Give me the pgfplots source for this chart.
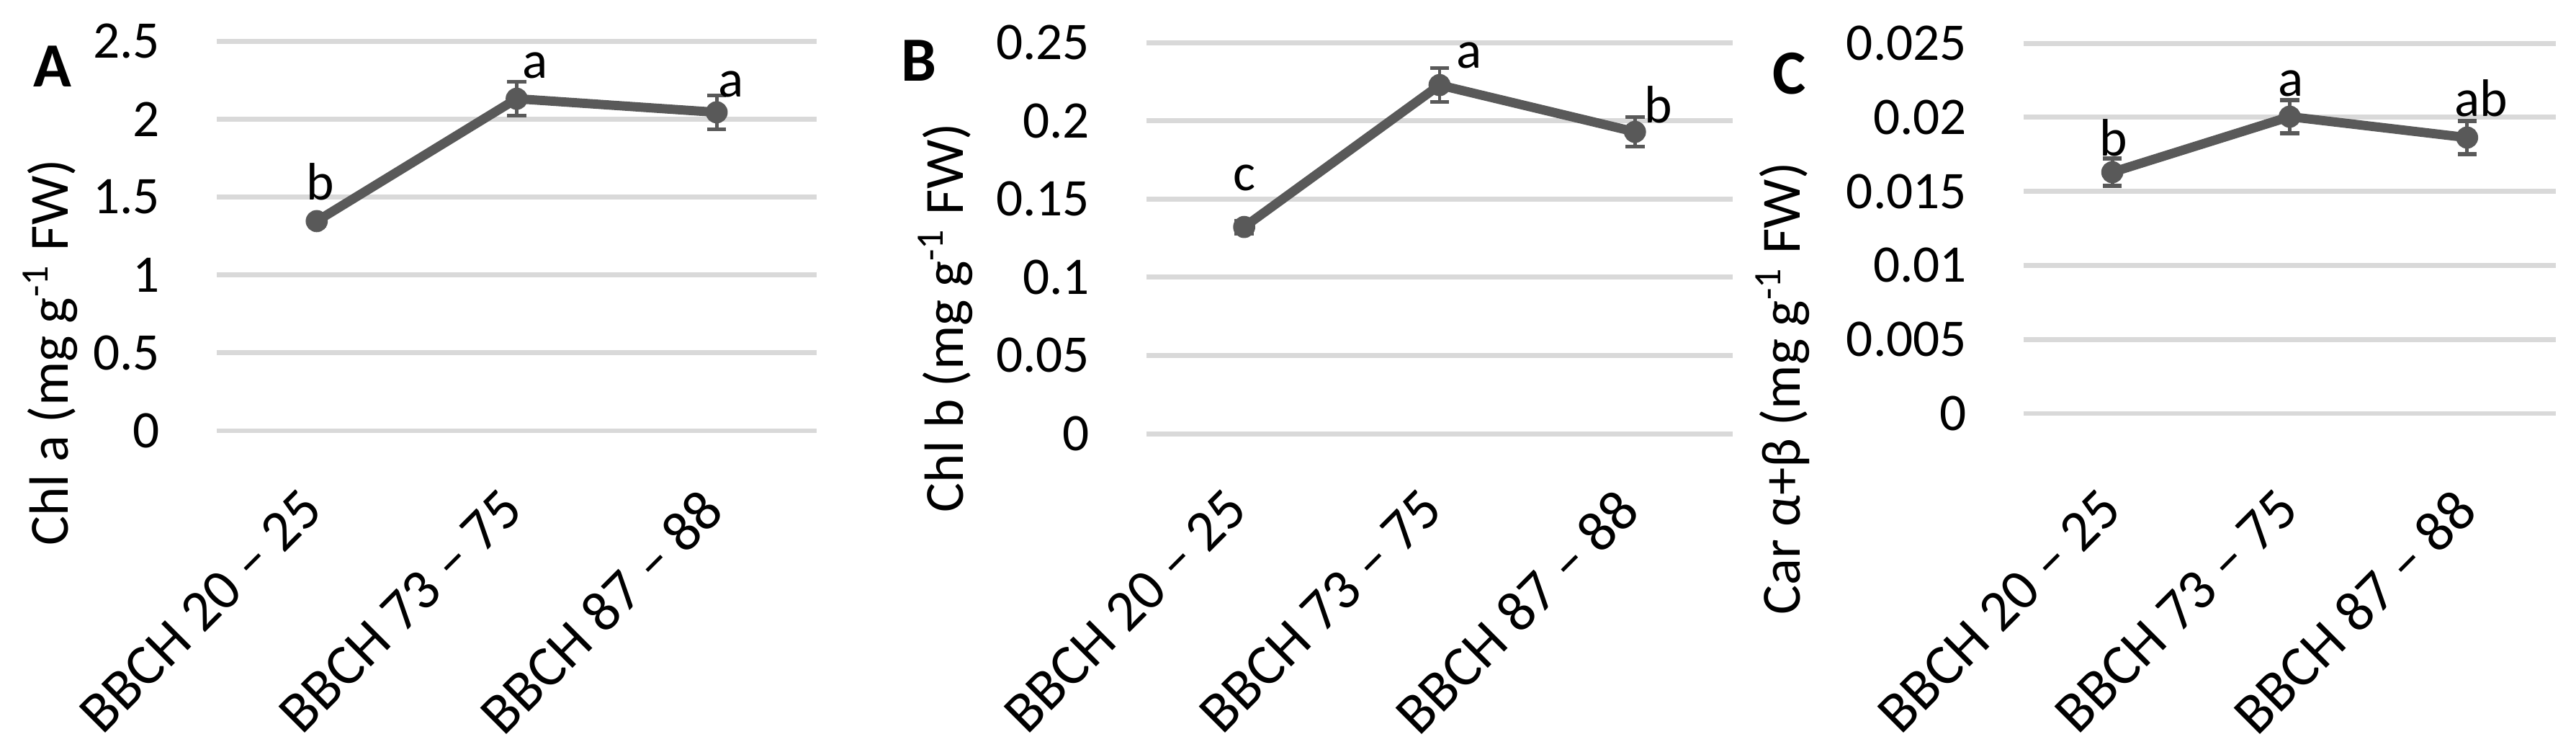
\documentclass[border=0pt]{standalone}
\usepackage{fontspec}
\setmainfont{Carlito}
\usepackage{pgfplots}
\pgfplotsset{compat=1.18}

\definecolor{linegray}{RGB}{89,89,89}
\definecolor{gridgray}{RGB}{217,217,217}

% shifts of the x tick labels are given in the rotated (45 deg) frame
\pgfplotsset{
  panel/.style={
    scale only axis, anchor=south west, clip=false,
    xmin=-0.5, xmax=2.5, xtick={0,1,2},
    xticklabels={BBCH 20 – 25, BBCH 73 – 75, BBCH 87 – 88},
    axis line style={draw=none}, major tick length=0pt,
    ymajorgrids, grid style={gridgray, line width=1pt},
    tick label style={font=\fontsize{10.5}{12}\selectfont, text=black},
    /pgf/number format/assume math mode=true,
    scaled y ticks=false,
    yticklabel style={/pgf/number format/fixed, /pgf/number format/precision=3,
      anchor=east, inner sep=0pt, xshift=-0.39cm},
    xticklabel style={rotate=45, anchor=north east, inner sep=0pt,
      font=\fontsize{11.5}{13}\selectfont},
    label style={font=\fontsize{11}{13}\selectfont},
    ylabel style={anchor=east, inner sep=0pt},
  },
  series/.style={linegray, line width=1.85pt,
    mark=*, mark size=2pt,
    mark options={solid, fill=linegray, draw=linegray, line width=0.4pt},
    error bars/y dir=both, error bars/y explicit,
    error bars/error bar style={linegray, line width=0.7pt},
    error bars/error mark options={rotate=90, linegray, mark size=1.9pt, line width=0.8pt}},
}
\tikzset{lab/.style={font=\fontsize{10.5}{12}\selectfont, inner sep=0pt, anchor=center}}

\begin{document}
\begin{tikzpicture}
\useasboundingbox (0,0) rectangle (18cm,5.2133cm);

% A: Chl a
\begin{axis}[panel, at={(1.5147cm,2.2041cm)}, width=4.1917cm, height=2.7224cm,
  ymin=0, ymax=2.5, ytick={0,0.5,1,1.5,2,2.5},
  ylabel={Chl a (mg g\textsuperscript{-1} FW)},
  ylabel style={at={(axis description cs:-0.278,0.699)}},
  xticklabel style={xshift=-0.356cm, yshift=-0.177cm}]
\addplot[series] coordinates {
  (0,1.345) +- (0,0.03)
  (1,2.130) +- (0,0.109)
  (2,2.043) +- (0,0.109)
};
\node[lab, xshift=0.025cm, yshift=0.277cm] at (axis cs:0,1.345) {b};
\node[lab, xshift=0.13cm,  yshift=0.23cm]  at (axis cs:1,2.130) {a};
\node[lab, xshift=0.10cm,  yshift=0.196cm] at (axis cs:2,2.043) {a};
\end{axis}

% B: Chl b
\begin{axis}[panel, at={(8.0111cm,2.1839cm)}, width=4.0961cm, height=2.7324cm,
  ymin=0, ymax=0.25, ytick={0,0.05,0.1,0.15,0.2,0.25},
  ylabel={Chl b (mg g\textsuperscript{-1} FW)},
  ylabel style={at={(axis description cs:-0.343,0.796)}},
  xticklabel style={xshift=-0.356cm, yshift=-0.149cm}]
\addplot[series] coordinates {
  (0,0.1321) +- (0,0.004)
  (1,0.2228) +- (0,0.0108)
  (2,0.1929) +- (0,0.0095)
};
\node[lab, xshift=0cm,     yshift=0.342cm] at (axis cs:0,0.1321) {c};
\node[lab, xshift=0.206cm, yshift=0.206cm] at (axis cs:1,0.2228) {a};
\node[lab, xshift=0.161cm, yshift=0.191cm] at (axis cs:2,0.1929) {b};
\end{axis}

% C: Car
\begin{axis}[panel, at={(14.1402cm,2.3248cm)}, width=3.7187cm, height=2.5865cm,
  ymin=0, ymax=0.025, ytick={0,0.005,0.01,0.015,0.02,0.025},
  ylabel={Car α+β (mg g\textsuperscript{-1} FW)},
  ylabel style={at={(axis description cs:-0.453,0.681)}},
  xticklabel style={xshift=-0.427cm, yshift=-0.277cm}]
\addplot[series] coordinates {
  (0,0.01629) +- (0,0.00092)
  (1,0.02004) +- (0,0.00113)
  (2,0.01863) +- (0,0.00111)
};
\node[lab, xshift=0.01cm,  yshift=0.242cm] at (axis cs:0,0.01629) {b};
\node[lab, xshift=0.01cm,  yshift=0.231cm] at (axis cs:1,0.02004) {a};
\node[lab, xshift=0.096cm, yshift=0.277cm] at (axis cs:2,0.01863) {ab};
\end{axis}

\node[font=\bfseries\fontsize{12.5}{14}\selectfont, inner sep=0pt] at (0.3673cm,4.7503cm) {A};
\node[font=\bfseries\fontsize{12.5}{14}\selectfont, inner sep=0pt] at (6.4210cm,4.7906cm) {B};
\node[font=\bfseries\fontsize{12.5}{14}\selectfont, inner sep=0pt] at (12.5048cm,4.7000cm) {C};
\end{tikzpicture}
\end{document}
